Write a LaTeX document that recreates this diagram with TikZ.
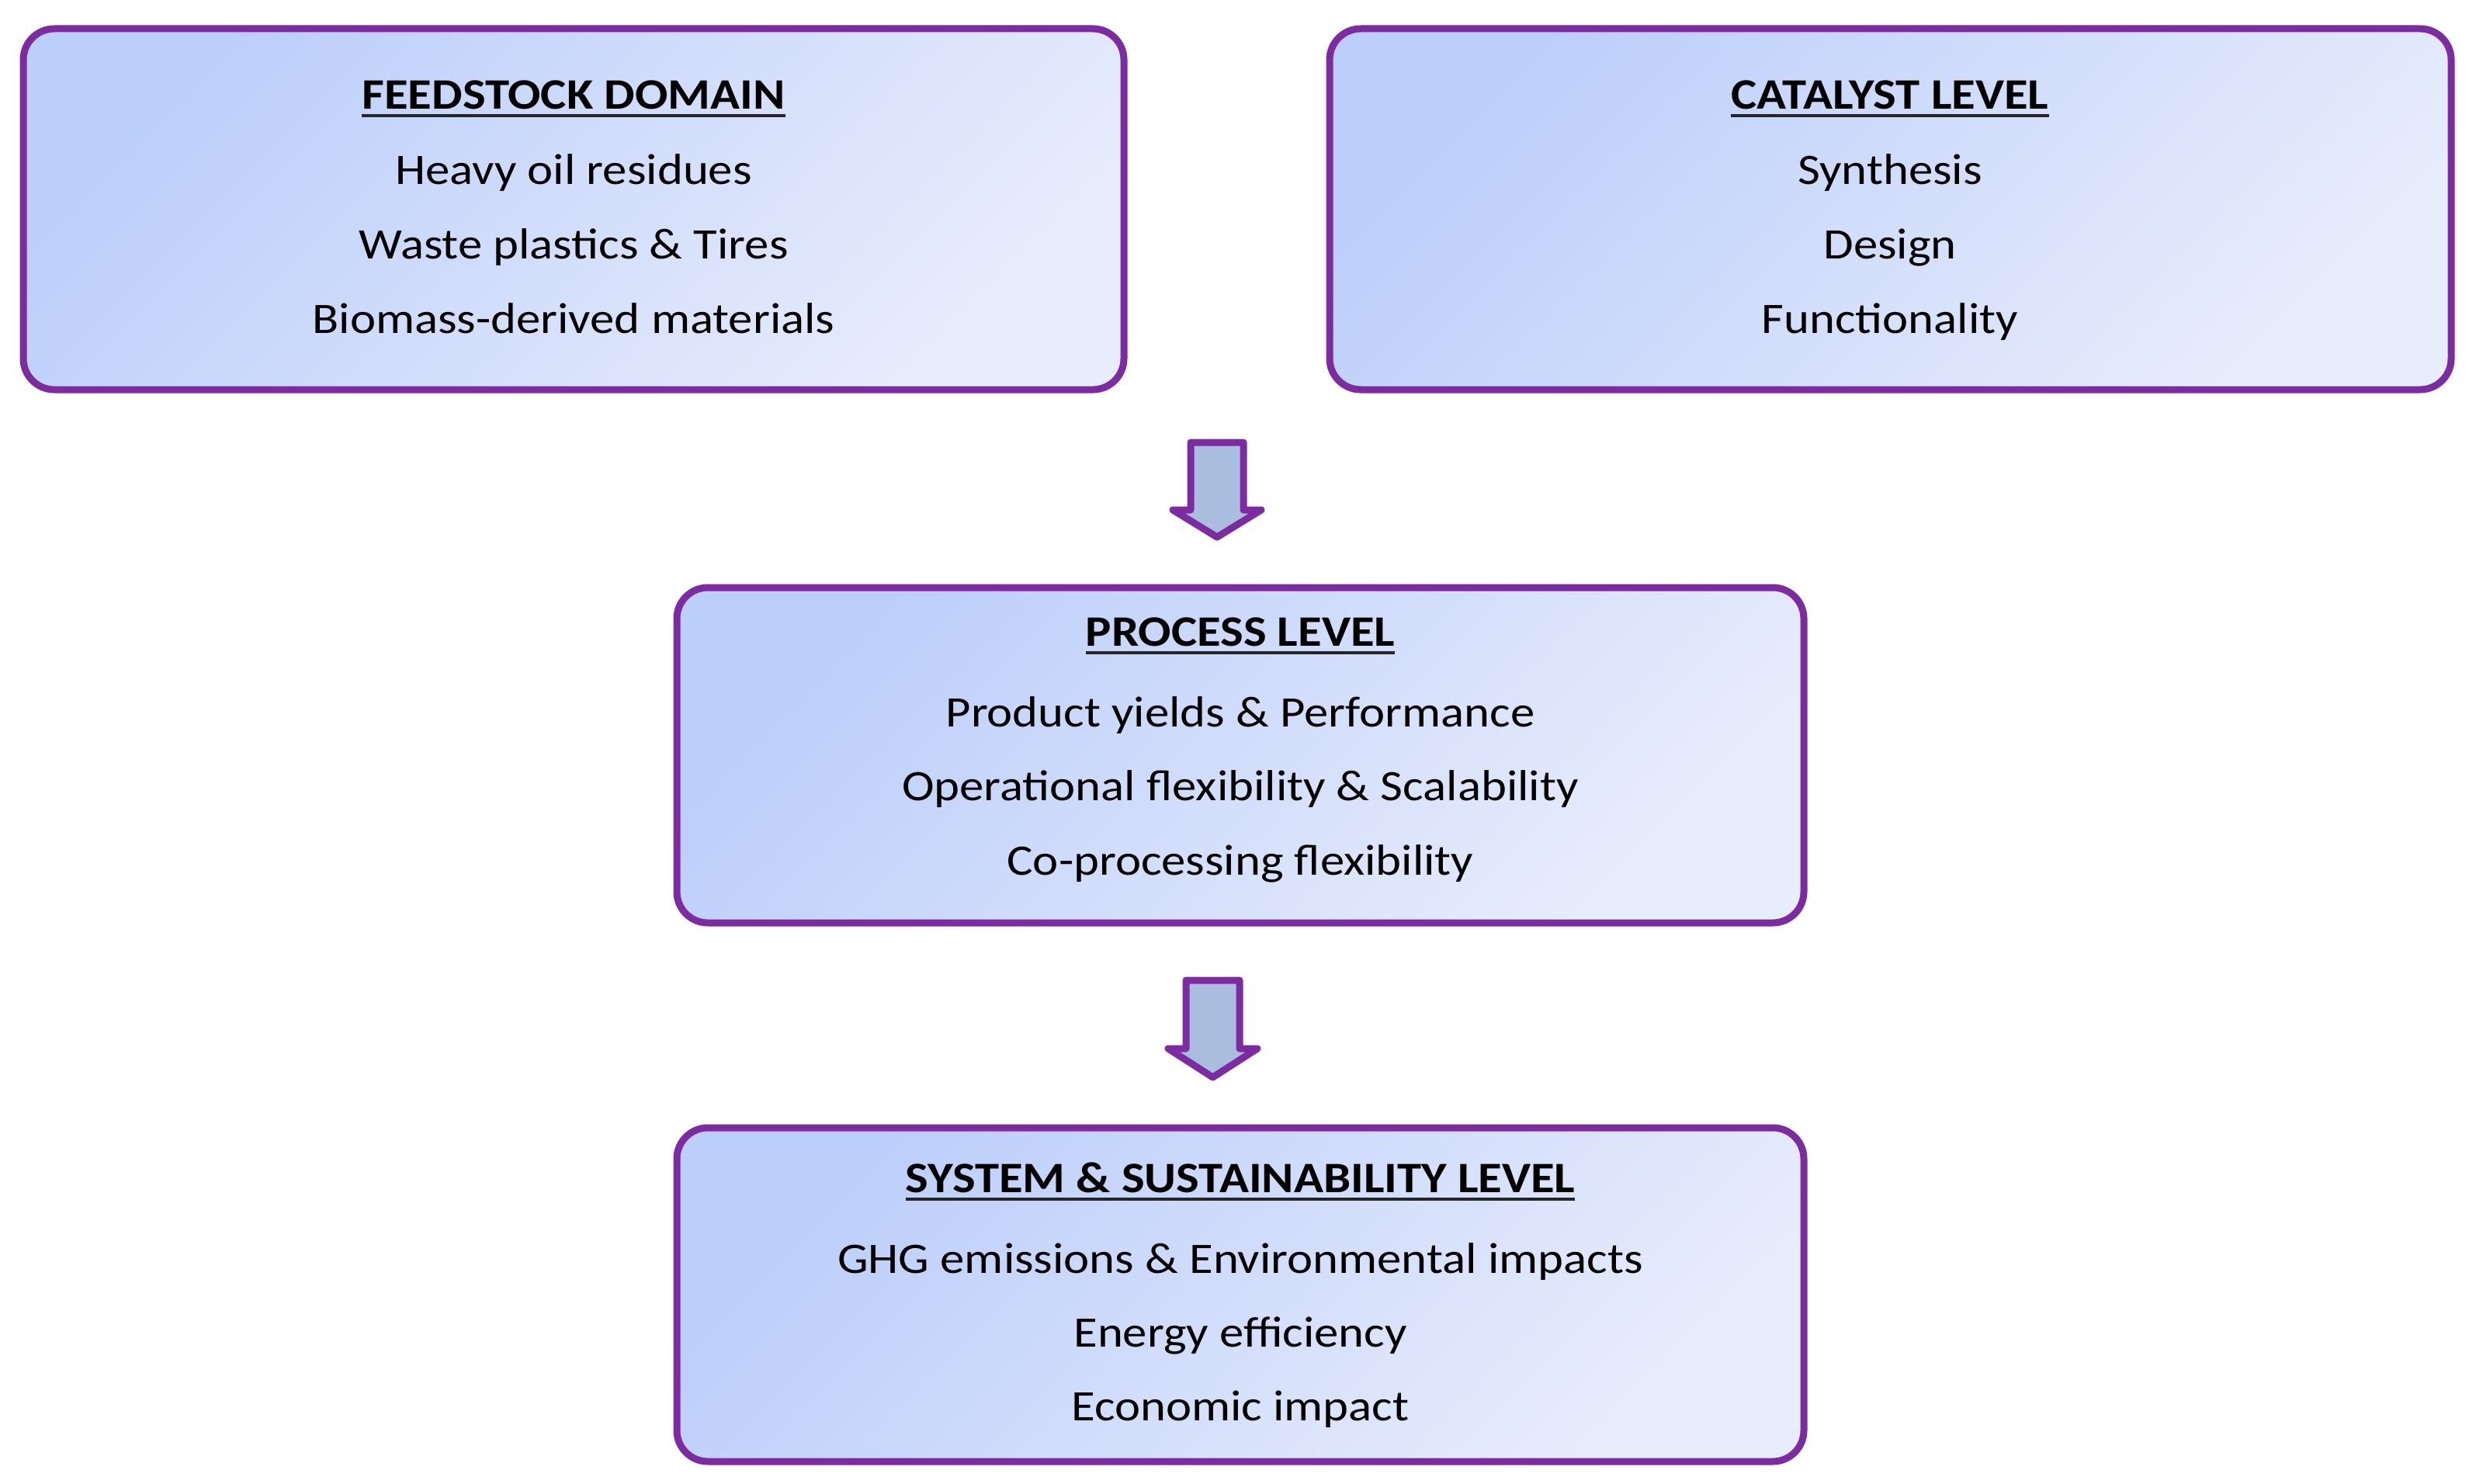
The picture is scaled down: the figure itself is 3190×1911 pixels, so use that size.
\documentclass[tikz,border=0pt]{standalone}
\usepackage{fontspec}
\setmainfont{Carlito}[FakeStretch=1.12]
\definecolor{boxpurple}{RGB}{124,44,160}
\definecolor{boxtop}{RGB}{188,206,250}
\definecolor{boxbot}{RGB}{232,237,252}
\definecolor{arrowfill}{RGB}{170,189,222}
\tikzset{
  panel/.style={draw=boxpurple, line width=9pt, rounded corners=40pt, inner sep=0pt,
    shading=axis, top color=boxtop, bottom color=boxbot, shading angle=45},
  ttl/.style={anchor=base, inner sep=0pt, font=\fontsize{56}{60}\selectfont\bfseries},
  itm/.style={anchor=base, inner sep=0pt, font=\fontsize{56}{60}\selectfont},
  uline/.style={line width=4pt, black!85},
  blockarrow/.style={draw=boxpurple, fill=arrowfill, line width=9pt, line join=round}
}
\begin{document}
\begin{tikzpicture}[x=1pt,y=-1pt]
\useasboundingbox (0,0) rectangle (3190,1911);
% boxes
\node[panel, minimum width=1418pt, minimum height=465pt] (feed) at (739,269.5) {};
\node[panel, minimum width=1445pt, minimum height=465pt] (cat) at (2435.5,269.5) {};
\node[panel, minimum width=1452pt, minimum height=432pt] (proc) at (1598,973) {};
\node[panel, minimum width=1452pt, minimum height=430pt] (sys) at (1598,1668) {};
% feedstock texts
\node[ttl] (feedT) at (739,140) {FEEDSTOCK DOMAIN};
\draw[uline] ([yshift=-9pt]feedT.base west) -- ([yshift=-9pt]feedT.base east);
\node[itm] (feed1) at (739,237) {Heavy oil residues};
\node[itm] (feed2) at (739,333) {Waste plastics \& Tires};
\node[itm] (feed3) at (739,429) {Biomass-derived materials};
% catalyst texts
\node[ttl] (catT) at (2435,140) {CATALYST LEVEL};
\draw[uline] ([yshift=-9pt]catT.base west) -- ([yshift=-9pt]catT.base east);
\node[itm] (cat1) at (2435,237) {Synthesis};
\node[itm] (cat2) at (2435,333) {Design};
\node[itm] (cat3) at (2435,429) {Functionality};
% process texts
\node[ttl] (procT) at (1598,832) {PROCESS LEVEL};
\draw[uline] ([yshift=-9pt]procT.base west) -- ([yshift=-9pt]procT.base east);
\node[itm] (proc1) at (1598,936) {Product yields \& Performance};
\node[itm] (proc2) at (1598,1031) {Operational flexibility \& Scalability};
\node[itm] (proc3) at (1598,1127) {Co-processing flexibility};
% system texts
\node[ttl] (sysT) at (1598,1536) {SYSTEM \& SUSTAINABILITY LEVEL};
\draw[uline] ([yshift=-9pt]sysT.base west) -- ([yshift=-9pt]sysT.base east);
\node[itm] (sys1) at (1598,1640) {GHG emissions \& Environmental impacts};
\node[itm] (sys2) at (1598,1735) {Energy efficiency};
\node[itm] (sys3) at (1598,1830) {Economic impact};
% block arrows
\draw[blockarrow] (1534,570) -- (1602,570) -- (1602,657) -- (1625,657) -- (1568,692)
  -- (1511,657) -- (1534,657) -- cycle;
\draw[blockarrow] (1528,1263) -- (1597,1263) -- (1597,1351) -- (1620,1351) -- (1562.5,1388)
  -- (1505,1351) -- (1528,1351) -- cycle;
\end{tikzpicture}
\end{document}
